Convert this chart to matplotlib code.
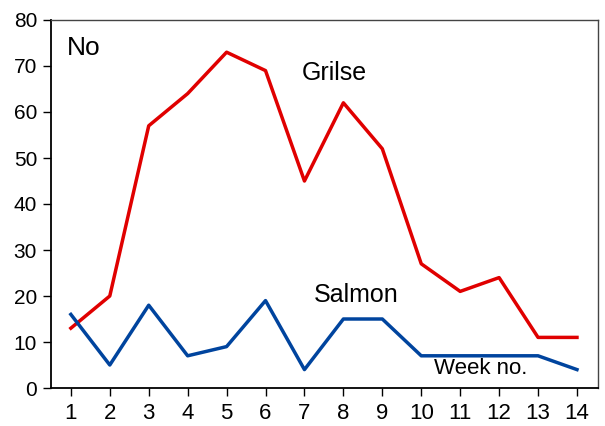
import matplotlib
matplotlib.use('Agg')
import matplotlib.pyplot as plt

# weekly catches
weeks = list(range(1, 15))
grilse = [13, 20, 57, 64, 73, 69, 45, 62, 52, 27, 21, 24, 11, 11]
salmon = [16, 5, 18, 7, 9, 19, 4, 15, 15, 7, 7, 7, 7, 4]

plt.rcParams['font.family'] = ['Liberation Sans', 'DejaVu Sans']

fig = plt.figure(figsize=(6.05, 4.26), dpi=100)
ax = fig.add_axes([51/605, 38/426, 547/605, 368/426])

ax.plot(weeks, grilse, color='#e00000', lw=2.5)
ax.plot(weeks, salmon, color='#00449e', lw=2.5)

ax.set_xlim(0.49, 14.54)
ax.set_ylim(0, 80)
ax.set_xticks(weeks)
ax.set_yticks(range(0, 81, 10))
ax.tick_params(direction='out', length=6, width=1, labelsize=15, pad=4)
ax.tick_params(axis='x', labelsize=16, pad=5)

for s in ['left', 'bottom']:
    ax.spines[s].set_linewidth(1.3)
for s in ['top', 'right']:
    ax.spines[s].set_linewidth(1.0)
    ax.spines[s].set_color('#444444')

ax.text(0.9, 74, 'No', fontsize=19, va='center', ha='left')
ax.text(7.76, 68.5, 'Grilse', fontsize=18, va='center', ha='center')
ax.text(8.33, 20.2, 'Salmon', fontsize=18, va='center', ha='center')
ax.text(11.52, 4.2, 'Week no.', fontsize=16, va='center', ha='center')

fig.savefig('out.png', dpi=100)
